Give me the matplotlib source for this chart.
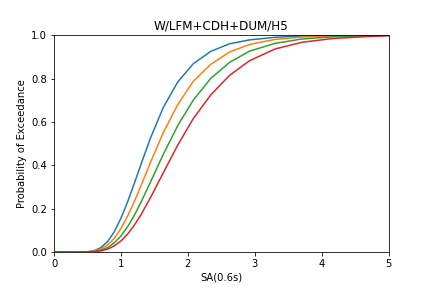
import matplotlib
matplotlib.use('Agg')
import matplotlib.pyplot as plt

# intensity measure grid
sa = [0.0, 0.2, 0.4, 0.5, 0.6, 0.7, 0.8, 0.9, 1.0, 1.1, 1.2, 1.3, 1.44,
      1.63, 1.85, 2.08, 2.34, 2.62, 2.92, 3.30, 3.70, 4.15, 4.65, 5.0]

# exceedance probabilities, one list per damage state
ds1 = [0.0, 0.0, 0.0001, 0.0011, 0.006, 0.020, 0.048, 0.093, 0.156, 0.232,
       0.317, 0.405, 0.525, 0.665, 0.785, 0.868, 0.925, 0.960, 0.978, 0.990,
       0.996, 0.998, 0.999, 1.0]
ds2 = [0.0, 0.0, 0.0001, 0.0008, 0.004, 0.013, 0.032, 0.063, 0.108, 0.166,
       0.233, 0.306, 0.413, 0.549, 0.681, 0.787, 0.865, 0.922, 0.957, 0.980,
       0.991, 0.997, 0.999, 1.0]
ds3 = [0.0, 0.0, 0.0, 0.0005, 0.0023, 0.008, 0.020, 0.042, 0.074, 0.117,
       0.169, 0.230, 0.322, 0.449, 0.584, 0.700, 0.800, 0.874, 0.926, 0.962,
       0.982, 0.992, 0.997, 0.999]
ds4 = [0.0, 0.0, 0.0, 0.0003, 0.0014, 0.005, 0.013, 0.028, 0.051, 0.083,
       0.124, 0.172, 0.250, 0.364, 0.494, 0.615, 0.724, 0.814, 0.882, 0.936,
       0.967, 0.984, 0.993, 0.997]

fig = plt.figure(figsize=(6, 4), dpi=72)
fig.subplots_adjust(left=0.125, right=0.9, bottom=0.125, top=0.878)
ax = fig.add_subplot(111)

for ys in (ds1, ds2, ds3, ds4):
    ax.plot(sa, ys)

ax.set_xlim(0, 5)
ax.set_ylim(0, 1)
ax.set_title('W/LFM+CDH+DUM/H5')
ax.set_xlabel('SA(0.6s)')
ax.set_ylabel('Probability of Exceedance')

fig.savefig('out.png', dpi=72)
